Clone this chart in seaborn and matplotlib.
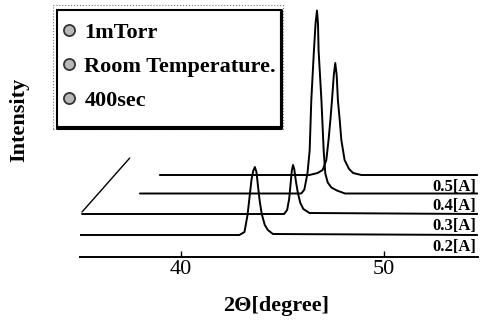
import numpy as np
import pandas as pd
import matplotlib
matplotlib.use("Agg")
import matplotlib.pyplot as plt
import seaborn as sns
from matplotlib.lines import Line2D
from matplotlib.patches import Rectangle

# ---- data ----
currents = ["0.2[A]", "0.3[A]", "0.4[A]", "0.5[A]"]
offsets = [22, 43, 63.5, 82]          # vertical waterfall offset of each trace

tt_02 = [35.05, 42.9, 43.15, 43.3, 43.4, 43.5, 43.58, 43.66, 43.74, 43.82, 43.9, 44.0, 44.15, 44.3, 44.55, 54.62]
int_02 = [0, 0, 3, 20, 38, 56, 64, 68, 63, 48, 34, 21, 10, 5, 1, 0]

tt_03 = [35.15, 45.1, 45.25, 45.35, 45.42, 45.48, 45.54, 45.6, 45.68, 45.78, 45.9, 46.05, 46.35, 54.62]
int_03 = [0, 0, 4, 15, 30, 43, 49, 45, 33, 21, 11, 5, 1, 0]

tt_04 = [38.0, 45.95, 46.1, 46.25, 46.36, 46.44, 46.57, 46.65, 46.72, 46.77, 46.8, 46.94, 47.05, 47.13, 47.25, 47.43, 47.7, 48.1, 54.62]
int_04 = [0, 0, 4, 20, 43, 93, 143, 170, 183, 170, 143, 93, 43, 20, 11, 6, 3, 0, 0]

tt_05 = [38.98, 46.35, 46.75, 47.0, 47.18, 47.29, 47.38, 47.46, 47.55, 47.62, 47.69, 47.75, 47.84, 47.92, 48.08, 48.3, 48.5, 48.9, 54.62]
int_05 = [0, 0, 2, 5, 15, 35, 55, 75, 100, 112, 100, 75, 55, 35, 15, 6, 2, 0, 0]

conditions = ["1mTorr", "Room Temperature.", "400sec"]
xticks = [40, 50]
xlabel = "2\u0398[degree]"
ylabel = "Intensity"
depth_x = [35.15, 37.5]   # pseudo-3D depth axis
depth_y = [45, 99]

# ---- build table ----
frames = []
for name, tt, inten, off in zip(currents, [tt_02, tt_03, tt_04, tt_05],
                                [int_02, int_03, int_04, int_05], offsets):
    frames.append(pd.DataFrame({"twotheta": tt,
                                "signal": np.asarray(inten, float) + off,
                                "current": name}))
df = pd.concat(frames, ignore_index=True)

sns.set_theme(style="white")
plt.rcParams["font.family"] = ["Liberation Serif", "DejaVu Serif"]
plt.rcParams["text.color"] = "black"
plt.rcParams["axes.labelcolor"] = "black"

W, H = 481, 321
fig = plt.figure(figsize=(W / 100, H / 100), dpi=100)
ax = fig.add_axes([80 / W, 64 / H, 398 / W, 250 / H])

sns.lineplot(data=df, x="twotheta", y="signal", hue="current",
             palette={c: "black" for c in currents}, estimator=None,
             sort=False, legend=False, lw=1.4, ax=ax)
ax.plot(depth_x, depth_y, color="black", lw=1.0)

for name, off in zip(currents, offsets):
    ax.text(54.55, off - 12, name, ha="right", va="center",
            fontsize=12, fontweight="bold", color="black")

ax.set_xlim(35.05, 54.65)
ax.set_ylim(0, 250)
ax.set_yticks([])
ax.set_xticks(xticks)
ax.set_xticklabels([str(t) for t in xticks])
ax.tick_params(axis="x", bottom=True, direction="in", length=4, width=1,
               pad=2, labelsize=16, colors="black")
for s in ["left", "top", "right"]:
    ax.spines[s].set_visible(False)
ax.spines["bottom"].set_color("black")
ax.spines["bottom"].set_linewidth(1.4)

ax.set_xlabel(xlabel, fontsize=16, fontweight="bold", va="center", color="black")
ax.xaxis.set_label_coords((276.5 - 80) / 398, (257 - 306) / 250)
ax.set_ylabel(ylabel, fontsize=16, fontweight="bold", va="center", color="black")
ax.yaxis.set_label_coords((19 - 80) / 398, (257 - 120) / 250)

# legend box with condition notes
fig.patches.append(Rectangle((53 / W, 1 - 129 / H), 230 / W, 124 / H,
                             transform=fig.transFigure, fill=False,
                             edgecolor="#777777", lw=0.8, ls=":"))
fig.patches.append(Rectangle((57 / W, 1 - 127 / H), 224 / W, 117 / H,
                             transform=fig.transFigure, fill=False,
                             edgecolor="black", lw=1.5))
# darker bevel on bottom/right edge
fig.lines.append(Line2D([57 / W, 281 / W, 281 / W],
                        [1 - 128 / H, 1 - 128 / H, 1 - 10 / H],
                        transform=fig.transFigure, color="black", lw=2.2))
handles = [Line2D([], [], ls="none", marker="o", markersize=8,
                  markerfacecolor="#b8b8b8", markeredgecolor="#333333",
                  markeredgewidth=1.3) for _ in conditions]
fig.legend(handles, conditions, loc="upper left",
           bbox_to_anchor=(60 / W, 1 - 22 / H), frameon=False,
           borderpad=0, borderaxespad=0, handlelength=0.8,
           handletextpad=0.3, labelspacing=0.62, labelcolor="black",
           prop=dict(family="Liberation Serif", weight="bold", size=16))

fig.savefig("out.png", dpi=100)
